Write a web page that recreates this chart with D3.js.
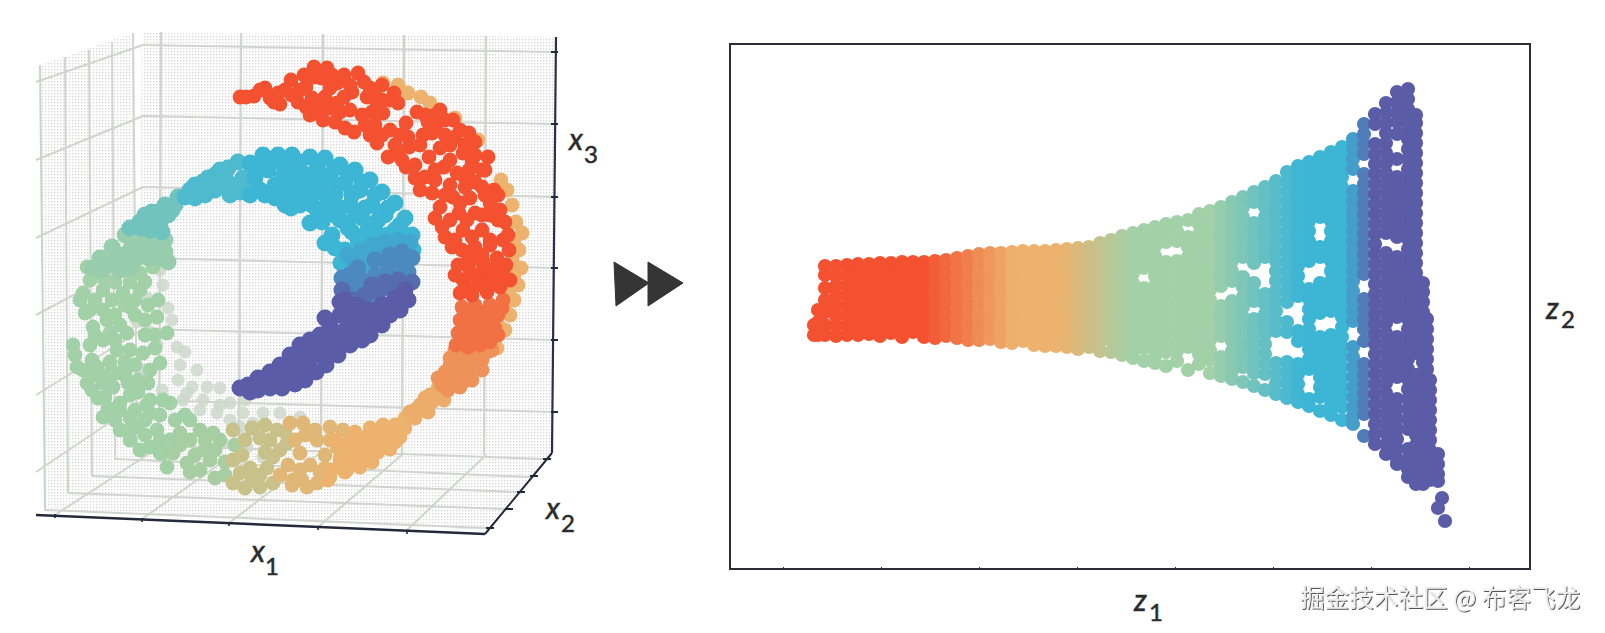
<!DOCTYPE html>
<html><head><meta charset="utf-8">
<script src="https://cdnjs.cloudflare.com/ajax/libs/d3/7.8.5/d3.min.js"></script>
<style>html,body{margin:0;background:#fff}svg{display:block}</style></head>
<body><svg id="c" width="1605" height="633"></svg>
<script>
// ---- unrolled manifold: z1 stations, and the z2 values seen at each station ----
const z1Stations=[84,88,95,106,117,128,139,150,161,172,183,194,205,216,227,238,249,260,271,282,293,304,315,326,337,348,359,370,381,392,403,414,425,436,447,458,469,480,491,502,513,524,535,546,557,568,579,590,601,612,623,634,645,656,667,678,686,693,697,700,708,712,708,715];
const z2Readings=[
[234,244],[234,247,259],[303,294,281,269,257,244,234],[303,293,283,273,263,253,243,233],[304,294,284,274,264,254,244,234],
[305,299,289,279,269,259,249,239,234],[305,295,285,275,265,255,245,235],[306,300,290,280,270,260,250,240,233],[306,296,286,276,266,256,246,236],[307,301,291,281,271,261,251,241,232],
[307,297,287,277,267,257,247,237],[307,302,292,282,272,262,252,242,232],[308,298,288,278,268,258,248,238,231],[309,303,293,283,273,263,253,243,233],[311,301,291,281,271,261,251,241,231],
[313,306,296,286,276,266,256,246,236,229],[315,305,295,285,275,265,255,245,235,229],[316,310,300,290,280,270,260,250,240,230],[316,306,296,286,276,266,256,246,236,227],[317,311,301,291,281,271,261,251,241,231,226],
[318,308,298,288,278,268,258,248,238,228],[318,312,302,292,282,272,262,252,242,232,224],[318,308,298,288,278,268,258,248,238,228,223],[319,313,303,293,283,273,263,253,243,233,223],[320,310,300,290,280,270,260,250,240,230,222],
[321,315,305,295,285,275,265,255,245,235,225,220],[322,312,302,292,282,272,262,252,242,232,222],[326,317,307,297,287,277,267,257,247,237,227,218],[329,319,309,299,289,279,269,259,249,239,229,217],[333,324,314,304,294,284,274,264,254,244,234,224,214],
[336,326,316,306,296,286,276,266,256,246,236,226,216,211],[339,331,321,311,301,281,271,261,251,241,231,221,208],[342,333,323,313,303,293,283,273,263,253,243,233,223,213,206],[345,337,327,307,297,287,277,267,257,247,237,227,217,203],[347,338,328,308,298,288,278,268,258,248,238,228,218,208],
[349,332,322,312,302,292,282,272,262,252,242,232,222,199],[355,345,335,325,315,305,295,285,275,265,255,245,235,225,215,205],[358,349,339,329,319,309,299,289,279,269,259,249,239,229,219,209,196],[362,353,343,333,323,313,303,293,283,263,253,243,233,212,202,193],[367,358,348,338,328,318,308,298,288,268,258,248,238,228,218,208,198,190],
[372,362,352,342,332,322,312,292,282,272,262,252,242,232,222,212,202,187],[377,367,346,336,326,316,306,286,276,268,250,240,236,226,216,206,196,183],[382,372,362,352,342,332,322,312,275,265,255,245,235,225,215,205,195,179],[388,378,368,358,348,338,328,318,308,298,288,278,268,258,248,238,206,196,186,175],[397,387,377,367,357,347,337,327,317,307,297,287,277,267,247,237,207,197,187,177,171],
[403,393,383,373,363,353,343,333,323,313,303,293,283,273,238,228,205,195,185,175,167],[407,398,388,378,368,358,348,338,328,318,308,280,270,260,250,240,230,220,210,200,170,163],[412,402,392,382,372,362,352,322,312,286,276,266,256,232,222,212,202,192,182,172,158],[417,408,398,388,378,368,358,348,338,328,318,308,298,288,278,268,258,234,224,214,204,194,184,174,164,154],[422,412,402,392,382,372,362,352,342,332,322,312,302,292,282,272,262,252,242,232,222,212,202,192,182,172,162,149],
[430,420,410,400,378,368,358,348,338,328,318,308,298,288,278,268,258,248,222,212,202,192,182,172,162,153,145],[445,435,425,415,395,385,375,365,355,345,335,325,315,305,295,270,260,250,240,228,205,195,185,175,165,155,133],[455,445,425,415,405,395,385,375,365,355,345,335,325,315,305,295,285,275,265,255,245,235,225,215,205,195,185,175,165,155,145,135,125],[466,456,446,436,426,416,406,396,386,376,366,356,346,336,316,306,296,286,276,266,256,246,236,226,216,206,196,186,176,166,156,146,136,125,115],[477,467,457,447,435,410,392,382,372,362,352,342,332,312,302,292,282,272,262,252,232,222,212,202,192,170,160,150,140,130,120,110,105],
[480,470,460,450,440,430,420,410,400,390,380,370,360,350,340,330,320,310,300,290,280,270,260,250,240,230,220,210,200,190,180,170,160,150,140,120,110,100,92],[454,446,436,426,416,406,396,386,376,366,356,346,336,326,316,306,296,286,276,266,256,246,236,226,216,194,184,174,164,154,144,134,124,114,104,94,85],[286,277,267,257,247,237,227,217,207,197,187,177,167,157,147,137,127,117,107,97,85],[250,240,230,220,210,200,190],[189,179,169,159,149,139,129,119,109,99,89],[115,105,95,88],[71],[61],[48]];
const z1Ticks=[53,151,249,347,445,543,641,739];
// position along the manifold where each colour is seen, and the colour there
const colourStops=[195,285,330,400,480,570,615,645];
const colourValues=["#f35130","#edb26d","#edb26d","#a2d0a7","#a2d0a7","#3db5d5","#3db5d5","#5b5ca8"];

// ---- rolled view: each list is flat x1,x3 pairs, named by the colour it shows ----
const rollPale=[130,270,133,255,117,242,138,232,142,220,107,218,120,208,127,195,147,193,155,188,150,175,167,170,148,160,162,153,177,153,132,150,98,173,113,170,190,152,200,137,153,140,173,140,157,147,170,130,187,127,213,127,233,127,193,97,217,93,223,117,210,113,233,83,250,127,270,123,200,120,215,140,190,135];
const rollGreen=[53,247,50,240,73,250,67,267,57,273,87,270,97,273,110,267,123,273,55,227,73,230,63,213,77,220,100,233,93,247,110,250,128,240,127,223,137,207,97,207,73,200,87,190,43,195,45,185,113,187,130,177,53,170,67,173,87,167,57,157,98,157,73,157,68,142,90,137,118,157,117,135,133,140,47,173,83,153,73,123,90,130,90,110,107,113,100,100,120,127,120,93,127,110,137,73,133,87,130,87,140,137,160,120,
60,260,75,260,85,258,100,258,115,258,65,240,82,240,95,235,105,240,118,235,60,230,85,225,90,215,105,225,115,220,65,205,80,207,85,200,115,205,125,205,60,195,100,190,125,192,62,180,80,178,95,178,105,175,120,170,65,165,78,165,95,165,108,160,62,150,75,143,100,145,108,148,78,132,105,130,120,140,85,120,100,122,115,120,130,125,100,110,115,105,110,90,130,100,140,100,145,120,155,125];
const rollSage=[150,107,170,110,183,107,143,87,157,77,170,70,180,80,185,90,160,100,175,100,150,95,165,85,175,90,190,100,195,78,195,65,160,68,185,62,205,95];
const rollTan=[203,110,203,80,210,67,203,57,215,52,230,53,230,102,247,110,243,83,257,97,243,57,215,100,222,112,235,88,220,72,230,65,222,60,237,72,250,90,240,100,212,85,235,115,255,108];
const rollSand=[263,60,273,117,270,87,277,53,260,117,287,100,300,113,307,93,287,57,300,63,317,70,313,110,280,75,295,85,265,100,275,105,285,110,300,100,310,80,295,72,270,70,258,75,250,65,262,55,272,60,290,68];
const rollOrange=[375,122,365,115,353,115,340,112,325,108,370,103,358,102,345,100,330,95,318,92,360,91,348,88,335,83,322,80,310,82,342,78,330,73,315,68,302,70,298,60,370,112,360,108,348,108,332,102,320,100,352,95,340,90,328,88,315,90,338,103,310,95,305,100,365,98,375,112];
const rollOrangeEdge=[353,457,368,455,378,447,391,443,400,437,425,422,448,400,458,383,471,360,477,350,482,335,486,318,492,307,489,290,491,272,488,255,484,240,480,225,475,210,467,192,478,315,484,300,482,280,484,265,478,248,474,232,468,215];
const rollTeal=[63,272,70,282,82,293,95,305,105,295,90,285,78,275,120,295,130,290,105,280,118,282,72,270,85,280,100,290,112,305,125,300,135,300,90,270,100,272,128,282,138,278,110,292,135,288];
const rollCyan=[135,335,148,343,122,328,110,318,130,318,142,330,120,310,132,308,100,312,115,325,128,328,118,318,145,335,112,312,125,316,138,325];
const rollSky=[160,350,173,358,185,365,198,372,208,378,170,347,185,350,198,357,213,362,210,348,155,343,165,355,178,362,190,370,203,355,222,370,190,355,175,345,200,345,165,342,178,350,195,365,215,352];
const rollBlue=[220,377,233,385,248,385,262,385,280,383,295,382,310,375,325,370,340,360,352,348,365,337,375,322,382,305,225,362,238,370,255,370,270,370,285,368,300,365,315,357,330,350,342,335,355,325,365,310,230,350,245,355,260,350,275,355,290,350,305,345,320,335,332,322,345,310,355,295,245,342,261,332,270,335,282,335,295,332,310,320,322,308,335,295,280,317,292,318,295,297,302,305,311,277,315,290,325,282,220,345,
228,372,242,378,256,378,270,378,288,376,305,372,318,365,332,358,345,345,358,332,370,315,377,300,383,290,235,345,252,345,252,362,265,360,280,362,295,358,308,355,322,345,335,332,348,320,358,305,368,295,375,285,268,345,283,345,298,340,310,332,325,325,338,310,348,295,358,285,255,335,305,325,288,328,318,312,328,300,340,285,305,292,318,280,333,275];
const rollAzure=[318,285,330,288,342,295,355,298,368,300,380,298,325,275,338,280,352,285,365,288,378,285];
const rollDeep=[320,265,332,260,345,265,358,272,370,278,382,282,375,265,363,258,350,250,335,245,322,250,378,268,345,280,360,285,372,288,328,272,338,255,352,258,368,262,357,262,312,262,318,250,345,245,375,255];
const rollNavy=[312,250,322,240,335,245,348,248,360,252,372,256,382,258,342,255,355,258,368,260];
const rollIndigo=[375,250,365,242,352,235,340,230,327,235,315,240,320,225,333,220,348,225,362,235,310,225,300,215,315,210,328,208,342,215,290,205,305,200,320,195,332,200,280,200,292,190,308,185,270,195,282,183,296,175,260,185,272,175,286,168,250,175,262,165,275,160,240,168,252,158,265,156,228,162,240,155,252,152,218,155,228,150,240,152,210,152,220,148,
378,240,370,230,360,225,352,215,340,205,322,215,310,238,295,222,295,205,285,192,278,170,268,165,300,190,312,198,285,190,295,185,305,195,318,205,330,215,345,220,355,235,300,205,272,185,262,175,255,168,245,163,235,160,225,155];
const rollRed=[210,443,216,443,230,450,240,442,244,438,261,460,255,450,268,438,276,453,284,473,297,472,288,427,288,463,295,443,276,433,307,437,314,465,328,467,334,458,307,457,314,443,305,418,324,408,332,425,347,437,364,447,368,437,353,427,337,443,347,397,358,383,360,410,376,417,387,428,410,430,423,420,406,415,425,403,439,407,445,398,379,393,402,407,376,373,385,362,399,383,410,392,433,387,458,383,452,370,395,363,402,347,414,373,427,367,439,370,410,333,423,343,435,353,452,353,464,350,412,313,429,327,445,327,460,337,422,293,433,310,452,310,468,320,
224,444,235,452,248,447,250,436,262,445,270,450,280,462,274,465,292,462,302,465,300,452,282,442,288,438,300,432,293,420,280,425,310,428,320,430,322,448,320,455,340,452,345,445,352,440,352,455,360,440,342,428,335,415,315,412,340,405,345,415,352,405,365,395,370,405,378,403,368,385,372,380,385,375,390,395,393,405,398,418,405,425,415,420,395,425,415,405,430,410,420,395,435,395,445,385,420,380,405,370,390,350,405,360,420,355,435,362,445,358,415,345,430,337,440,342,455,345,405,322,420,320,437,320,452,325,460,325,415,303,425,300,442,303,460,300,470,330,475,318,478,305,468,345,455,370,442,378];
const rollVermilion=[432,290,445,293,460,295,473,300,428,275,440,278,453,278,467,282,479,290,433,260,447,262,460,265,473,270,430,247,442,245,457,248,470,253,480,260,438,285,452,285,465,272,425,265,440,268,453,270,437,252,450,255,463,258,476,275,474,262];
const rollCoral=[432,233,445,235,460,235,473,240,430,220,442,220,457,222,468,225,428,207,440,207,453,208,465,212,426,195,438,193,450,195,460,198,438,228,450,228,463,228,435,214,447,214,460,216,433,200,445,200,455,203,472,232,468,205];
const rollSalmon=[420,182,433,182,446,184,457,188,415,168,428,170,440,172,412,155,424,157,436,160,425,190,438,187,450,190,420,175,433,176,445,178,452,180,408,162,420,163,432,165,418,150,430,153,462,190,452,170,442,160];
const rollPeach=[400,145,412,148,422,155,390,135,402,138,414,140,380,128,392,130,395,142,407,143,385,130,397,132,385,122,408,152,398,128];
// the manifold position each list sits at, in drawing order
const rollLists=[rollGreen,rollSage,rollTan,rollSand,rollOrange,rollTeal,rollCyan,rollSky,rollBlue,rollAzure,rollDeep,rollNavy,rollIndigo,rollOrangeEdge,rollPeach,rollSalmon,rollCoral,rollVermilion,rollRed];
const rollPositions=[440,395,365,342,310,490,525,555,590,620,630,640,700,292,280,255,225,195,100];

const svg=d3.select("#c");
const defs=svg.append("defs");
const pat=defs.append("pattern").attr("id","stip").attr("width",3).attr("height",3).attr("patternUnits","userSpaceOnUse");
pat.append("rect").attr("width",3).attr("height",3).attr("fill","#fff");
pat.append("rect").attr("width",1.3).attr("height",1.3).attr("fill","#d6d6d6");
const shadow=defs.append("filter").attr("id","wm").attr("x","-5%").attr("y","-20%").attr("width","110%").attr("height","140%");
shadow.append("feDropShadow").attr("dx",1).attr("dy",1).attr("stdDeviation",0.5).attr("flood-color","#555");

const rollX=d3.scaleLinear().domain([0,540]).range([30,570]);
const rollY=d3.scaleLinear().domain([0,520]).range([540,20]);
const zX=d3.scaleLinear().domain([0,800]).range([730,1530]);
const zY=d3.scaleLinear().domain([0,525]).range([569,44]);
const colour=d3.scaleLinear().domain(colourStops).range(colourValues).clamp(true);

// ---- 3D box ----
const L=svg.append("g"), poly=p=>"M"+p.join("L")+"Z", seg=(a,b,c,w)=>L.append("path").attr("d","M"+a+"L"+b).attr("stroke",c).attr("stroke-width",w).attr("fill","none");
[[[40,65],[133,33],[137,445],[45,510]],[[142,33],[556,37],[552,453],[137,445]],[[45,510],[137,445],[552,453],[485,530]]].forEach(p=>L.append("path").attr("d",poly(p)).attr("fill","url(#stip)"));
const grey="#d2d4cf", sage="#c5d8c3";
const wallTickY=[45,116,187,258,329,400], wallLeftY=[82,160,238,315,395,472], backRightY=[52,124,197,268,340,412];
wallTickY.forEach((y,i)=>{seg([36,wallLeftY[i]],[143,y],grey,2);seg([143,y],[555,backRightY[i]],grey,2);});
[[161,32,450],[241,33,450],[323,34,451],[404,35,453],[486,36,455]].forEach(v=>seg([v[0],v[1]],[v[0]-2,v[2]],grey,2.4));
[[40,65,45,510],[65,57,68,493],[89,50,92,476],[112,42,115,459],[133,33,137,445]].forEach((v,i)=>seg([v[0],v[1]],[v[2],v[3]],i==0?sage:(i==1?"#cfd6cc":grey),2));
[[[137,445],[543,459]],[[115,459],[530,477]],[[92,476],[517,492]],[[68,493],[505,509]],[[45,510],[486,528]]].forEach(s=>seg(s[0],s[1],grey,2));
[[[55,515],[161,446]],[[142,519],[241,449]],[[229,523],[323,451]],[[318,527],[404,453]],[[407,530],[486,455]]].forEach(s=>seg(s[0],s[1],"#cdd6c8",2));
seg([36,515],[485,534],"#23283a",2.4);
seg([485,534],[552,453],"#23283a",2);
seg([556,37],[552,453],"#2a2f4e",2.2);
backRightY.forEach(y=>seg([551,y],[558,y],"#23283a",2));
[[543,459],[530,476],[517,492],[505,509],[486,528]].forEach(t=>seg(t,[t[0]+8,t[1]],"#23283a",2));
[[55,516],[142,520],[229,524],[318,528],[407,532]].forEach(t=>seg([t[0],t[1]-2],[t[0],t[1]+2],"#23283a",1.6));

// ---- rolled scatter ----
const pairs=a=>d3.range(0,a.length,2).map(i=>[a[i],a[i+1]]);
const R=svg.append("g");
R.selectAll(".p").data(pairs(rollPale)).join("circle").attr("cx",d=>rollX(d[0])).attr("cy",d=>rollY(d[1])).attr("r",6.5).attr("fill","#cdd8ca").attr("fill-opacity",.85);
rollLists.forEach((list,i)=>{
  R.append("g").selectAll("circle").data(pairs(list)).join("circle").attr("cx",d=>rollX(d[0])).attr("cy",d=>rollY(d[1])).attr("r",i>=5&&i<=12?8.5:7.4).attr("fill",colour(rollPositions[i]));
});

// ---- arrows ----
[[[614,262],[649,283],[616,306]],[[648,262],[683,283],[648,306]]].forEach(p=>svg.append("path").attr("d",poly(p)).attr("fill","#353535").attr("stroke","#353535").attr("stroke-linejoin","round"));

// ---- unrolled scatter ----
const U=svg.append("g");
const flat=z1Stations.flatMap((z,i)=>z2Readings[i].map(v=>[z,v]));
U.selectAll("circle").data(flat).join("circle").attr("cx",d=>zX(d[0])).attr("cy",d=>zY(d[1])).attr("r",7.1).attr("fill",d=>colour(d[0]));
svg.append("rect").attr("x",730).attr("y",44).attr("width",800).attr("height",525).attr("fill","none").attr("stroke","#2d2d38").attr("stroke-width",2);
const ax=svg.append("g").attr("transform","translate(0,569)").call(d3.axisBottom(zX).tickValues(z1Ticks).tickSize(-2).tickFormat(""));
ax.select(".domain").remove(); ax.selectAll("line").attr("stroke","#2d2d38");

// ---- labels ----
const lab=(t,x,y,s,it)=>svg.append("text").attr("x",x).attr("y",y).attr("font-family","Lato").attr("font-size",s).attr("font-style",it?"italic":"normal").attr("fill","#2b2b2b").attr("stroke","#2b2b2b").attr("stroke-width",.5).text(t);
lab("x",251,562,30,1);lab("1",265,575,24,0);
lab("x",546,519,30,1);lab("2",561,532,24,0);
lab("x",569,150,30,1);lab("3",584,163,24,0);
lab("z",1134,611,30,1);lab("1",1149,621,24,0);
lab("z",1546,319,30,1);lab("2",1561,328,24,0);
svg.append("text").attr("x",1300).attr("y",607).attr("font-family","Noto Sans CJK SC").attr("font-size",24.6).attr("fill","#ececec").attr("filter","url(#wm)").text("掘金技术社区 @ 布客飞龙");
</script></body></html>
